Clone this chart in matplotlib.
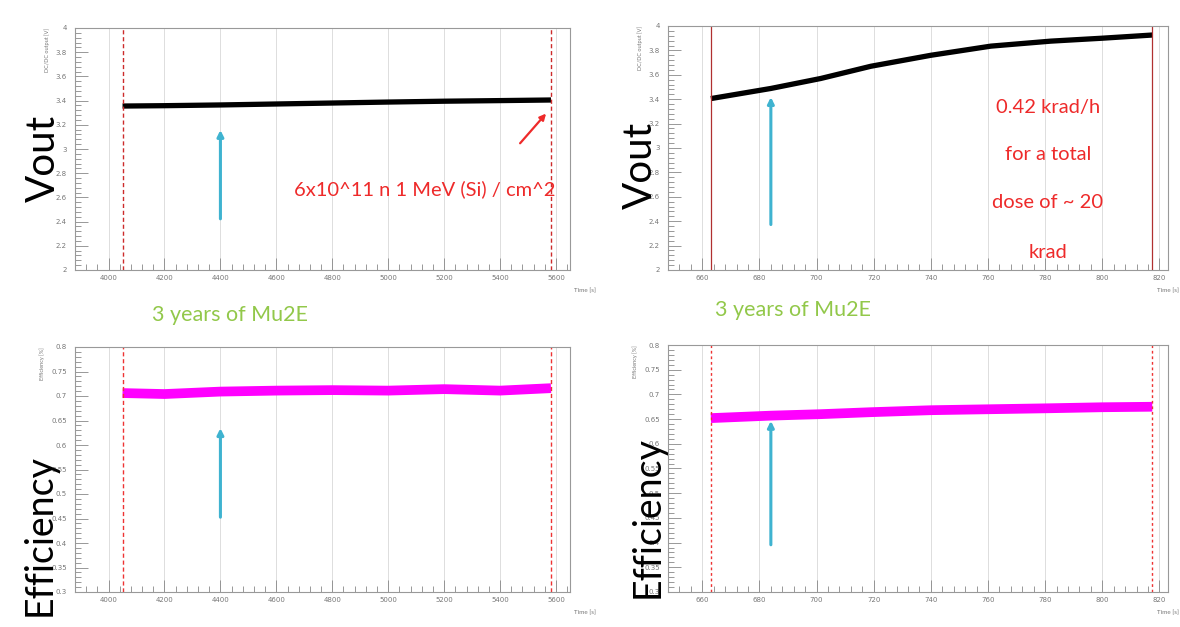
import matplotlib
matplotlib.use("Agg")
import matplotlib.pyplot as plt
from matplotlib.ticker import MultipleLocator

plt.rcParams['font.family'] = ['Lato', 'DejaVu Sans']

# ---- data ----
# neutron test (left)
n_time = [4050, 4200, 4400, 4600, 4800, 5000, 5200, 5400, 5582]
n_vout = [3.355, 3.358, 3.364, 3.372, 3.380, 3.388, 3.395, 3.400, 3.405]
n_eff = [0.706, 0.704, 0.709, 0.711, 0.712, 0.711, 0.714, 0.711, 0.716]
n_start, n_end = 4050, 5582

# gamma test (right)
g_time = [663, 684, 701.5, 719, 740, 761, 782, 800, 817.5]
g_vout = [3.405, 3.488, 3.57, 3.67, 3.76, 3.835, 3.876, 3.90, 3.926]
g_eff = [0.652, 0.657, 0.660, 0.664, 0.668, 0.670, 0.672, 0.674, 0.675]
g_start, g_end = 663, 817.5

left_xticks = [4000, 4200, 4400, 4600, 4800, 5000, 5200, 5400, 5600]
right_xticks = [660, 680, 700, 720, 740, 760, 780, 800, 820]
vout_yticks = [2, 2.2, 2.4, 2.6, 2.8, 3, 3.2, 3.4, 3.6, 3.8, 4]
eff_yticks = [0.3, 0.35, 0.4, 0.45, 0.5, 0.55, 0.6, 0.65, 0.7, 0.75, 0.8]

W, H = 1180, 627
fig = plt.figure(figsize=(W / 100, H / 100), dpi=100)
fig.patch.set_facecolor('white')


def box(l, t, r, b):
    return [l / W, 1 - b / H, (r - l) / W, (b - t) / H]


def style(ax, xlim, xticks, ylim, yticks, ystep, xstep):
    ax.set_xlim(*xlim)
    ax.set_ylim(*ylim)
    ax.set_xticks(xticks)
    ax.set_yticks(yticks)
    ax.xaxis.set_minor_locator(MultipleLocator(xstep))
    ax.yaxis.set_minor_locator(MultipleLocator(ystep))
    ax.tick_params(which='both', direction='in', colors='#888888',
                   labelsize=5, labelcolor='#777777', width=0.6)
    ax.tick_params(which='major', length=9)
    ax.tick_params(which='minor', length=4)
    ax.tick_params(axis='y', which='major', pad=6)
    ax.grid(axis='x', color='#dddddd', lw=0.7)
    for s in ax.spines.values():
        s.set_color('#999999')
        s.set_linewidth(0.8)
    ax.set_yticklabels([('%g' % v) for v in yticks], family='DejaVu Sans')
    ax.set_xticklabels([str(v) for v in xticks], family='DejaVu Sans')


green = '#92c84a'
red = '#ee2a2a'
cyan = '#3fb3d0'

# ---- top left ----
ax1 = fig.add_axes(box(75, 28, 570, 270))
style(ax1, (3880, 5650), left_xticks, (2, 4), vout_yticks, 0.04, 40)
ax1.plot(n_time, n_vout, color='black', lw=3.8, solid_capstyle='butt')
for x in (n_start, n_end):
    ax1.axvline(x, color='#cc2b2b', ls=(0, (3, 2)), lw=1)
ax1.annotate('', xy=(4400, 3.18), xytext=(4400, 2.40),
             arrowprops=dict(arrowstyle='-|>', color=cyan, lw=2.2, mutation_scale=9))
ax1.annotate('', xy=(5571, 3.31), xytext=(5465, 3.03),
             arrowprops=dict(arrowstyle='-|>', color=red, lw=1.6, mutation_scale=9))
fig.text(425 / W, 1 - 189 / H, '6x10^11 n 1 MeV (Si) / cm^2', color=red, fontsize=14.5,
         ha='center', va='center')
ax1.set_ylabel('DC/DC output [V]', fontsize=4, color='#777777', loc='top', labelpad=4)

# ---- top right ----
ax2 = fig.add_axes(box(668, 26, 1168, 270))
style(ax2, (648, 823), right_xticks, (2, 4), vout_yticks, 0.04, 4)
ax2.plot(g_time, g_vout, color='black', lw=3.8, solid_capstyle='butt')
for x in (g_start, g_end):
    ax2.axvline(x, color='#b03030', lw=0.9)
ax2.annotate('', xy=(684, 3.44), xytext=(684, 2.35),
             arrowprops=dict(arrowstyle='-|>', color=cyan, lw=2.2, mutation_scale=9))
for txt, yy in [('0.42 krad/h', 107), ('for a total', 155),
                ('dose of ~ 20', 203), ('krad', 253)]:
    fig.text(1048 / W, 1 - yy / H, txt, color=red, fontsize=14.5, ha='center', va='center')
ax2.set_ylabel('DC/DC output [V]', fontsize=4, color='#777777', loc='top', labelpad=4)

# ---- bottom left ----
ax3 = fig.add_axes(box(75, 347, 570, 592))
style(ax3, (3880, 5650), left_xticks, (0.3, 0.8), eff_yticks, 0.01, 40)
ax3.plot(n_time, n_eff, color='#ff00ff', lw=7, solid_capstyle='butt')
for x in (n_start, n_end):
    ax3.axvline(x, color='#ee3333', ls=(0, (3, 2)), lw=1)
ax3.annotate('', xy=(4400, 0.64), xytext=(4400, 0.447),
             arrowprops=dict(arrowstyle='-|>', color=cyan, lw=2.2, mutation_scale=9))
ax3.set_ylabel('Efficiency [%]', fontsize=4, color='#777777', loc='top', labelpad=4)

# ---- bottom right ----
ax4 = fig.add_axes(box(668, 345, 1168, 592))
style(ax4, (648, 823), right_xticks, (0.3, 0.8), eff_yticks, 0.01, 4)
ax4.plot(g_time, g_eff, color='#ff00ff', lw=7, solid_capstyle='butt')
for x in (g_start, g_end):
    ax4.axvline(x, color='#ee3333', ls=(0, (2, 2)), lw=1)
ax4.annotate('', xy=(684, 0.652), xytext=(684, 0.39),
             arrowprops=dict(arrowstyle='-|>', color=cyan, lw=2.2, mutation_scale=9))
ax4.set_ylabel('Efficiency [%]', fontsize=4, color='#777777', loc='top', labelpad=4)

# axis titles "Time [s]"
fig.text(585 / W, 1 - 292 / H, 'Time [s]', fontsize=4.5, color='#777777', ha='center')
fig.text(585 / W, 1 - 614 / H, 'Time [s]', fontsize=4.5, color='#777777', ha='center')
fig.text(1179 / W, 1 - 292 / H, 'Time [s]', fontsize=4.5, color='#777777', ha='right')
fig.text(1179 / W, 1 - 614 / H, 'Time [s]', fontsize=4.5, color='#777777', ha='right')

# big labels
fig.text(43 / W, 1 - 158 / H, 'Vout', fontsize=29, rotation=90, ha='center', va='center')
fig.text(640 / W, 1 - 165 / H, 'Vout', fontsize=29, rotation=90, ha='center', va='center')
fig.text(40 / W, 1 - 535 / H, 'Efficiency', fontsize=27, rotation=90, ha='center', va='center')
fig.text(648 / W, 1 - 517 / H, 'Efficiency', fontsize=27, rotation=90, ha='center', va='center')

fig.text(230 / W, 1 - 315 / H, '3 years of Mu2E', color=green, fontsize=15.5, ha='center', va='center')
fig.text(793 / W, 1 - 310 / H, '3 years of Mu2E', color=green, fontsize=15.5, ha='center', va='center')

fig.savefig('out.png', dpi=100, facecolor='white')
